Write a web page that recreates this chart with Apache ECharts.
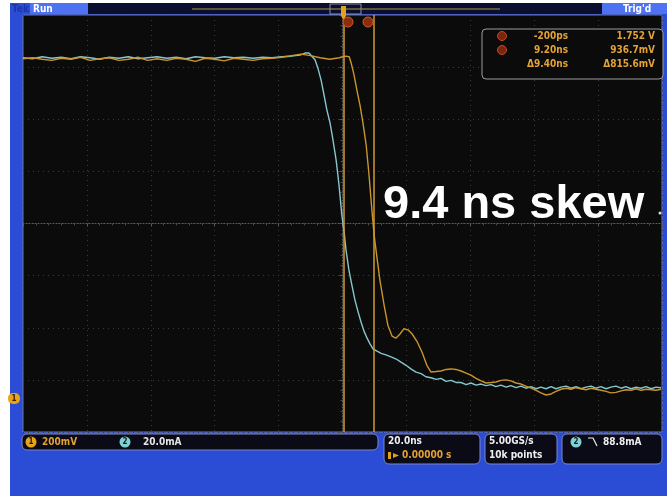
<!DOCTYPE html>
<html><head><meta charset="utf-8">
<script src="https://cdn.jsdelivr.net/npm/echarts@6/dist/echarts.min.js"></script>
<style>html,body{margin:0;padding:0;background:#fff}#c{width:667px;height:496px}</style>
</head><body><div id="c"></div><script>
// time in ns (20 ns/div), level in screen divisions
const ch1Time = [-100,-97,-94,-91,-88,-85,-82,-79,-76,-73,-70,-67,-64,-61,-58,-55,-52,-49,-46,-43,-40,-37,-34,-31,-28,-25,-22,-19,-16,-13,-10,-7,-4,-1,1,2.1,2.7,3.6,4.5,5.5,6.4,7.4,8.3,9.2,9.9,10.8,11.7,13.0,14.2,15.5,16.7,18.0,19.2,20.5,21.8,23.3,24.9,26.4,27.7,29.3,30.8,32.4,34.0,35.5,37.1,38.7,40.2,41.8,43.4,44.9,46.5,48.0,49.6,51.2,52.7,54.3,55.9,57.4,59.0,60.6,62.1,63.7,65.3,66.8,68.4,70.0,71.5,73.1,74.7,76.2,77.8,79.3,80.9,82.5,84.0,85.6,87.2,88.7,90.3,91.9,93.4,95.0,96.6,98.1,99.7];
const ch1Level = [3.16,3.18,3.15,3.13,3.17,3.15,3.19,3.13,3.16,3.18,3.13,3.15,3.19,3.13,3.16,3.13,3.17,3.15,3.11,3.17,3.15,3.12,3.17,3.15,3.13,3.16,3.17,3.19,3.22,3.25,3.22,3.18,3.15,3.18,3.21,3.20,3.08,2.85,2.56,2.26,1.93,1.51,0.93,0.26,-0.22,-0.66,-1.08,-1.56,-1.95,-2.16,-2.20,-2.12,-2.02,-2.04,-2.12,-2.26,-2.47,-2.72,-2.85,-2.84,-2.83,-2.80,-2.79,-2.80,-2.83,-2.87,-2.91,-2.97,-3.02,-3.06,-3.05,-3.04,-3.01,-3.00,-3.02,-3.06,-3.08,-3.12,-3.16,-3.20,-3.25,-3.29,-3.27,-3.22,-3.18,-3.16,-3.18,-3.15,-3.17,-3.19,-3.16,-3.18,-3.20,-3.22,-3.25,-3.24,-3.21,-3.19,-3.20,-3.17,-3.20,-3.18,-3.19,-3.20,-3.18];
const ch2Time = [-100,-97,-94,-91,-88,-85,-82,-79,-76,-73,-70,-67,-64,-61,-58,-55,-52,-49,-46,-43,-40,-37,-34,-31,-28,-25,-22,-19,-16,-13.3,-11.7,-10.5,-9.6,-8.6,-7.7,-6.7,-5.8,-4.9,-3.9,-3.0,-2.0,-1.1,-0.2,0.5,1.1,2.0,3.0,3.9,4.9,5.8,6.7,7.7,8.6,9.6,10.8,12.1,13.6,15.2,16.8,18.3,19.9,21.4,23.0,24.6,26.1,27.7,29.3,30.8,32.4,34.0,35.5,37.1,38.7,40.2,41.8,43.4,44.9,46.5,48.0,49.6,51.2,52.7,54.3,55.9,57.4,59.0,60.6,62.1,63.7,65.3,66.8,68.4,70.0,71.5,73.1,74.7,76.2,77.8,79.3,80.9,82.5,84.0,85.6,87.2,88.7,90.3,91.9,93.4,95.0,96.6,98.1,99.7];
const ch2Level = [3.18,3.16,3.20,3.17,3.19,3.16,3.20,3.18,3.15,3.19,3.17,3.20,3.16,3.18,3.20,3.17,3.19,3.16,3.20,3.18,3.17,3.20,3.18,3.19,3.17,3.19,3.18,3.20,3.21,3.23,3.27,3.27,3.21,3.14,2.98,2.75,2.47,2.18,1.93,1.61,1.22,0.74,0.16,-0.16,-0.51,-0.89,-1.20,-1.47,-1.70,-1.89,-2.06,-2.20,-2.31,-2.41,-2.45,-2.49,-2.52,-2.56,-2.60,-2.66,-2.72,-2.79,-2.85,-2.88,-2.94,-2.96,-2.99,-2.97,-3.03,-3.01,-3.05,-3.05,-3.09,-3.06,-3.10,-3.08,-3.11,-3.09,-3.13,-3.10,-3.14,-3.11,-3.15,-3.12,-3.16,-3.13,-3.17,-3.14,-3.17,-3.13,-3.17,-3.14,-3.12,-3.16,-3.13,-3.17,-3.14,-3.12,-3.16,-3.13,-3.17,-3.14,-3.12,-3.16,-3.13,-3.17,-3.14,-3.16,-3.13,-3.17,-3.14,-3.15];
const cursorTimes = [0.4, 9.8];
const readoutCol1 = ['-200ps','9.20ns','\u03949.40ns'];
const readoutCol2 = ['1.752 V','936.7mV','\u0394815.6mV'];
const annotation = '9.4 ns skew';

const ORANGE = '#c9952c', CYAN = '#86c6cc';
const UI = '"DejaVu Sans Condensed","Liberation Sans Narrow","DejaVu Sans",sans-serif';
const zip = (a,b)=>a.map((t,i)=>[t,b[i]]);

const chart = echarts.init(document.getElementById('c'), null, {renderer:'canvas'});
const axisCommon = {
  type:'value', axisLabel:{show:false},
  axisLine:{show:true,onZero:true,lineStyle:{color:'#5c5c5c',type:[1,2]}},
  axisTick:{show:true,length:3,lineStyle:{color:'#5c5c5c'}},
  minorTick:{show:true,splitNumber:5,length:2,lineStyle:{color:'#4a4a4a'}},
  splitLine:{show:true,lineStyle:{color:'#3a3a3a',type:[1,4]}}
};
const g = [];
// white margins
g.push({type:'rect',shape:{x:0,y:0,width:10,height:496},style:{fill:'#fff'},z:10,silent:true});
g.push({type:'rect',shape:{x:0,y:0,width:667,height:3},style:{fill:'#fff'},z:10,silent:true});
// top bar
g.push({type:'rect',shape:{x:30,y:3,width:58,height:11},style:{fill:'#4d72f2'},z:10});
g.push({type:'text',style:{text:'Tek',x:12,y:9,fill:'#1c36a8',font:'bold 10px '+UI,verticalAlign:'middle'},z:11});
g.push({type:'text',style:{text:'Run',x:33,y:9,fill:'#fff',font:'bold 10px '+UI,verticalAlign:'middle'},z:11});
g.push({type:'rect',shape:{x:88,y:3,width:514,height:11},style:{fill:'#0b0e2e'},z:10});
g.push({type:'line',shape:{x1:192,y1:9,x2:500,y2:9},style:{stroke:'#7d6e3a',lineWidth:1.5},z:11});
g.push({type:'rect',shape:{x:330,y:4,width:31,height:10},style:{fill:'none',stroke:'#8890b0',lineWidth:1},z:11});
g.push({type:'rect',shape:{x:602,y:3,width:65,height:11},style:{fill:'#4d72f2'},z:10});
g.push({type:'text',style:{text:"Trig'd",x:623,y:9,fill:'#fff',font:'bold 10px '+UI,verticalAlign:'middle'},z:11});
// trigger marker + cursor markers
g.push({type:'polygon',shape:{points:[[341,6],[346,6],[346,16],[343.5,20],[341,16]]},style:{fill:'#e0a020'},z:12});
g.push({type:'circle',shape:{cx:348,cy:22,r:5},style:{fill:'#8a2c10',stroke:'#d85a20',lineWidth:1},z:12});
g.push({type:'circle',shape:{cx:368,cy:22,r:5},style:{fill:'#8a2c10',stroke:'#d85a20',lineWidth:1},z:12});
// readout box
g.push({type:'rect',shape:{x:482,y:29,width:181,height:50,r:4},style:{fill:'#0b0b0c',stroke:'#9c9c9c',lineWidth:1},z:12});
[36,50].forEach(y=>g.push({type:'circle',shape:{cx:502,cy:y,r:4.5},style:{fill:'#7a2412',stroke:'#c84a1c',lineWidth:1},z:13}));
readoutCol1.forEach((t,i)=>g.push({type:'text',style:{text:t,x:568,y:36+i*14,fill:'#e3a235',font:'bold 10px '+UI,align:'right',verticalAlign:'middle'},z:13}));
readoutCol2.forEach((t,i)=>g.push({type:'text',style:{text:t,x:655,y:36+i*14,fill:'#e3a235',font:'bold 10px '+UI,align:'right',verticalAlign:'middle'},z:13}));
// annotation
g.push({type:'text',style:{text:annotation,x:383,y:205,fill:'#fff',font:'bold 47px "Liberation Sans",Arial,sans-serif',verticalAlign:'middle'},z:14});
g.push({type:'circle',shape:{cx:660,cy:213,r:1.5},style:{fill:'#ddd'},z:14});
// ch1 ground marker
g.push({type:'rect',shape:{x:8,y:393,width:12,height:11,r:5},style:{fill:'#e8a418'},z:12});
g.push({type:'text',style:{text:'1',x:14,y:398.5,fill:'#3a2000',font:'bold 8px '+UI,align:'center',verticalAlign:'middle'},z:13});
// bottom bars
const bar = (x,y,w,h)=>g.push({type:'rect',shape:{x,y,width:w,height:h,r:5},style:{fill:'#0a0b16',stroke:'#7c86c6',lineWidth:1},z:10});
bar(22,434,356,16); bar(384,434,96,30); bar(485,434,72,30); bar(562,434,100,30);
const badge=(cx,cy,fill,t)=>{g.push({type:'circle',shape:{cx,cy,r:5.5},style:{fill},z:11});
  g.push({type:'text',style:{text:t,x:cx,y:cy,fill:'#102020',font:'bold 8px '+UI,align:'center',verticalAlign:'middle'},z:12});};
const txt=(t,x,y,fill)=>g.push({type:'text',style:{text:t,x,y,fill,font:'bold 10px '+UI,verticalAlign:'middle'},z:12});
badge(31,442,'#e8a418','1'); txt('200mV',42,442,'#e3a235');
badge(125,442,'#7fd0d0','2'); txt('20.0mA',143,442,'#e6e6e6');
txt('20.0ns',388,441,'#eeeeee');
g.push({type:'rect',shape:{x:388,y:452,width:3,height:7},style:{fill:'#e0a020'},z:12});
g.push({type:'polygon',shape:{points:[[393,453],[399,455.5],[393,458]]},style:{fill:'#e0a020'},z:12});
txt('0.00000 s',402,455,'#e3a235');
txt('5.00GS/s',489,441,'#eeeeee'); txt('10k points',489,455,'#eeeeee');
badge(576,442,'#7fd0d0','2');
g.push({type:'polyline',shape:{points:[[588,438],[593,438],[597,446]]},style:{stroke:'#eee',lineWidth:1.2,fill:'none'},z:12});
txt('88.8mA',603,442,'#eeeeee');

chart.setOption({
  animation:false,
  backgroundColor:'#2b4cd4',
  grid:{left:23,right:5,top:15,bottom:64,show:true,backgroundColor:'#0b0b0c',borderColor:'#6f78a8',borderWidth:1},
  xAxis:Object.assign({},axisCommon,{min:-100,max:100,interval:20}),
  yAxis:Object.assign({},axisCommon,{min:-4,max:4,interval:1}),
  series:[
    {type:'line',name:'ch2',data:zip(ch2Time,ch2Level),showSymbol:false,lineStyle:{color:CYAN,width:1.4},z:3},
    {type:'line',name:'ch1',data:zip(ch1Time,ch1Level),showSymbol:false,lineStyle:{color:ORANGE,width:1.4},z:4,
     markLine:{silent:true,symbol:['none','none'],label:{show:false},lineStyle:{type:'solid',color:'#d29a30',width:1.5},
       data:cursorTimes.map(t=>({xAxis:t}))}}
  ],
  graphic:g
});
</script></body></html>
